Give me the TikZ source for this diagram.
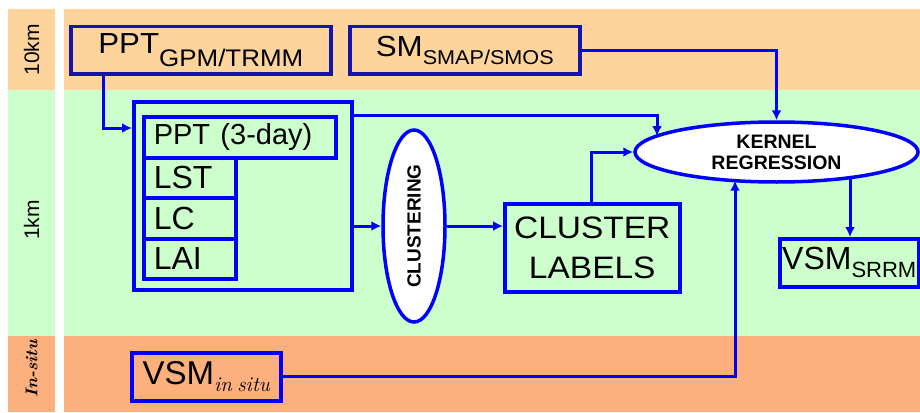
\documentclass[tikz,border=0pt]{standalone}
\usepackage{fontspec}
\newfontfamily\arial{Liberation Sans}
\newfontfamily\arialx{Liberation Sans}[FakeStretch=1.08]
\usetikzlibrary{arrows.meta,shapes.geometric,calc}
\definecolor{bandA}{RGB}{253,213,156}
\definecolor{bandB}{RGB}{204,255,204}
\definecolor{bandC}{RGB}{252,176,126}
\definecolor{dblue}{RGB}{20,20,170}
\definecolor{bblue}{RGB}{0,0,255}
\newcommand\fs[1]{\fontsize{#1}{#1}\selectfont}
\begin{document}
\begin{tikzpicture}[x=1pt,y=-1pt,
  box/.style={draw=bblue, line width=3.5pt, inner sep=0pt, anchor=north west, font=\arial},
  lbox/.style={box, align=left, inner xsep=10pt},
  oval/.style={draw=bblue, line width=3.5pt, fill=white, ellipse, inner sep=0pt},
  arr/.style={draw=bblue, line width=3pt, -{Latex[length=10pt,width=10pt]}},
  bandlabel/.style={rotate=90, inner sep=0pt}]
\useasboundingbox (0,0) rectangle (920,412);
\fill[white] (0,0) rectangle (920,412);
% bands
\fill[bandA] (8,9) rectangle (55,90);
\fill[bandA] (64,9) rectangle (920,90);
\fill[bandB] (8,90) rectangle (55,336);
\fill[bandB] (64,90) rectangle (920,336);
\fill[bandC] (8,336) rectangle (55,412);
\fill[bandC] (64,336) rectangle (920,412);
% band labels
\node[bandlabel, font=\arial\fs{21}] (l10) at (31.5,50) {10km};
\node[bandlabel, font=\arial\fs{21}] (l1) at (31.5,220) {1km};
\node[bandlabel, font=\bfseries\itshape\fs{17}] (lin) at (31.5,369) {In-situ};
% top row
\node[box, draw=dblue, minimum width=260pt, minimum height=47pt, font=\arialx] (gpm) at (69,25)
  {\fs{29}PPT\raisebox{-13pt}{\fs{24}GPM/TRMM}};
\node[box, draw=dblue, minimum width=230pt, minimum height=47pt, font=\arialx] (sm) at (348,25)
  {\fs{29}SM\raisebox{-8pt}{\fs{20}SMAP/SMOS}};
% input group
\node[box, minimum width=218pt, minimum height=188pt] (big) at (132,100) {};
\node[lbox, text width=172pt, minimum height=41pt, font=\arial] (ppt3) at (142,115) {\fs{29}PPT\hspace{7pt} (3-day)};
\node[lbox, text width=72pt, minimum height=40pt] (lst) at (142,156) {\fs{32}LST};
\node[lbox, text width=72pt, minimum height=41pt] (lc) at (142,196) {\fs{32}LC};
\node[lbox, text width=72pt, minimum height=40pt] (lai) at (142,237) {\fs{32}LAI};
% processing
\node[oval, minimum width=62pt, minimum height=192pt] (clus) at (414,226)
  {\rotatebox{90}{\arial\bfseries\fs{19}CLUSTERING}};
\node[box, minimum width=175pt, minimum height=88pt, align=center,
  font=\arialx\fontsize{31}{40}\selectfont] (cl) at (503,202) {CLUSTER\\LABELS};
\node[oval, minimum width=283pt, minimum height=60pt, align=center,
  font=\arial\bfseries\fontsize{19.5}{21}\selectfont] (kr) at (776.5,152) {KERNEL\\REGRESSION};
\node[box, minimum width=139pt, minimum height=48pt] (srrm) at (778,237)
  {\fs{32}VSM\raisebox{-8pt}{\fs{22}SRRM}};
\node[box, minimum width=149pt, minimum height=48pt] (insitu) at (130,351)
  {\fs{33}VSM\raisebox{-7pt}{\normalfont\itshape\fs{21}in\hspace{-2pt} situ}};
% points on the kernel ellipse
\coordinate (k1) at ($(kr.center)+(-119.5,-16)$);
\coordinate (k2) at ($(kr.center)+(73.5,25.6)$);
\coordinate (k3) at ($(kr.center)+(-41.5,28.7)$);
% connectors
\draw[arr] ([xshift=34pt]gpm.south west) |- ([yshift=-28pt]big.north west);
\draw[arr] (sm.east) -| (kr.north);
\draw[arr] ([yshift=-15pt]big.north east) -| (k1);
\draw[arr] (big.east |- clus.west) -- (clus.west);
\draw[arr] (clus.east) -- (clus.east -| cl.west);
\draw[arr] ([xshift=88pt]cl.north west) |- (kr.west);
\draw[arr] (k2) -- (k2 |- srrm.north);
\draw[arr] (insitu.east) -| (k3);
\end{tikzpicture}
\end{document}
